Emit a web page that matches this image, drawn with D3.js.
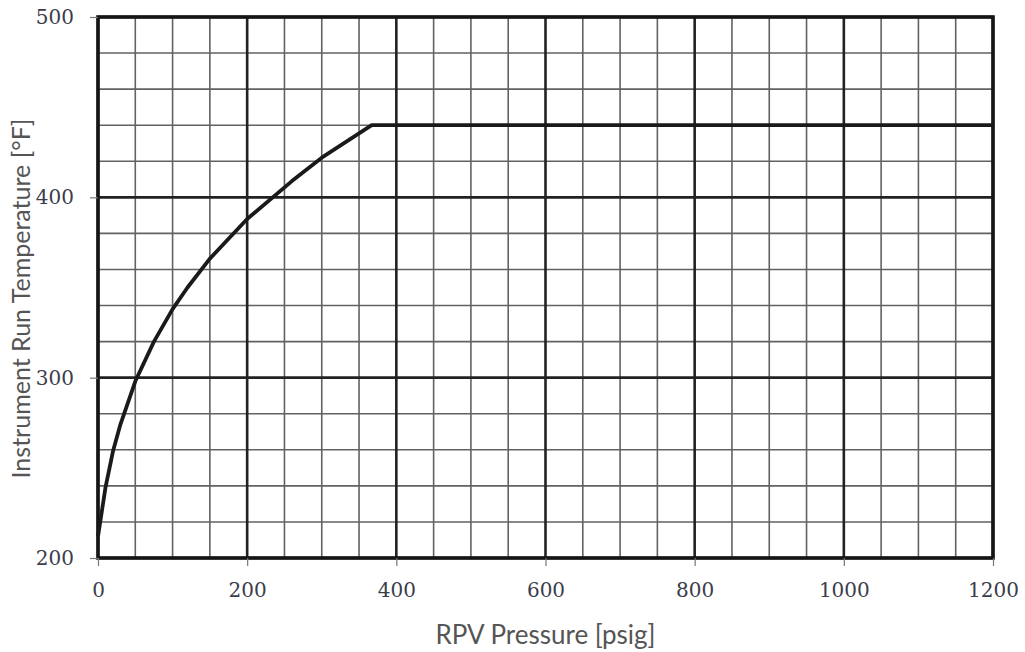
<!DOCTYPE html>
<html>
<head>
<meta charset="utf-8">
<script src="https://cdn.jsdelivr.net/npm/d3@7"></script>
<style>
  body { margin: 0; background: #fff; }
</style>
</head>
<body>
<div id="chart"></div>
<script>
// curve: saturation temperature vs pressure
const pressure = [0, 10, 20, 30, 50, 75, 100, 120, 150, 200, 260, 300, 367, 1200];
const temperature = [212, 239, 259, 274, 298, 320, 338, 350, 366, 388, 409, 422, 440, 440];

const xTicks = [0, 200, 400, 600, 800, 1000, 1200];
const yTicks = [200, 300, 400, 500];
const xMinor = d3.range(0, 1201, 50);
const yMinor = d3.range(200, 501, 20);

const W = 1025, H = 652;
const margin = {top: 17, right: 32, bottom: 94, left: 98};

const svg = d3.select("#chart").append("svg")
    .attr("width", W)
    .attr("height", H);

const x = d3.scaleLinear().domain([0, 1200]).range([margin.left, W - margin.right]);
const y = d3.scaleLinear().domain([200, 500]).range([H - margin.bottom, margin.top]);

// minor grid
svg.append("g").selectAll("line")
    .data(xMinor.filter(d => d % 200 != 0))
    .enter().append("line")
    .attr("x1", d => x(d)).attr("x2", d => x(d))
    .attr("y1", y(200)).attr("y2", y(500))
    .attr("stroke", "#626262").attr("stroke-width", 1.6);

svg.append("g").selectAll("line")
    .data(yMinor.filter(d => d % 100 != 0))
    .enter().append("line")
    .attr("y1", d => y(d)).attr("y2", d => y(d))
    .attr("x1", x(0)).attr("x2", x(1200))
    .attr("stroke", "#626262").attr("stroke-width", 1.6);

// major grid
svg.append("g").selectAll("line")
    .data(xTicks)
    .enter().append("line")
    .attr("x1", d => x(d)).attr("x2", d => x(d))
    .attr("y1", y(200)).attr("y2", y(500))
    .attr("stroke", "#222").attr("stroke-width", 2.6);

svg.append("g").selectAll("line")
    .data(yTicks)
    .enter().append("line")
    .attr("y1", d => y(d)).attr("y2", d => y(d))
    .attr("x1", x(0)).attr("x2", x(1200))
    .attr("stroke", "#222").attr("stroke-width", 2.6);

// frame
svg.append("rect")
    .attr("x", x(0)).attr("y", y(500))
    .attr("width", x(1200) - x(0))
    .attr("height", y(200) - y(500))
    .attr("fill", "none")
    .attr("stroke", "#151515")
    .attr("stroke-width", 3.6);

// axes (ticks + labels)
const xAxis = svg.append("g")
    .attr("transform", `translate(0,${y(200)})`)
    .call(d3.axisBottom(x).tickValues(xTicks).tickFormat(d3.format("d")).tickSize(8).tickPadding(17));
const yAxis = svg.append("g")
    .attr("transform", `translate(${x(0)},0)`)
    .call(d3.axisLeft(y).tickValues(yTicks).tickFormat(d3.format("d")).tickSize(8).tickPadding(16));

[xAxis, yAxis].forEach(function (g) {
    g.select(".domain").remove();
    g.selectAll(".tick line").attr("stroke", "#777").attr("stroke-width", 1.2);
    g.selectAll(".tick text")
        .attr("font-family", "DejaVu Serif, serif")
        .attr("font-size", "20px")
        .attr("fill", "#3b3d4a");
});

// curve
const line = d3.line()
    .x(function (d, i) { return x(pressure[i]); })
    .y(function (d, i) { return y(temperature[i]); });

svg.append("path")
    .datum(pressure)
    .attr("d", line)
    .attr("fill", "none")
    .attr("stroke", "#1a1a1a")
    .attr("stroke-width", 3.8)
    .attr("stroke-linejoin", "round");

// axis titles
svg.append("text")
    .attr("x", (x(0) + x(1200)) / 2)
    .attr("y", 644)
    .attr("text-anchor", "middle")
    .attr("font-family", "Lato, sans-serif")
    .attr("font-size", "26px")
    .attr("fill", "#555")
    .text("RPV Pressure [psig]");

svg.append("text")
    .attr("transform", `translate(30,${(y(200) + y(500)) / 2 + 11}) rotate(-90)`)
    .attr("text-anchor", "middle")
    .attr("font-family", "Lato, sans-serif")
    .attr("font-size", "25px")
    .attr("fill", "#555")
    .text("Instrument Run Temperature [°F]");
</script>
</body>
</html>
